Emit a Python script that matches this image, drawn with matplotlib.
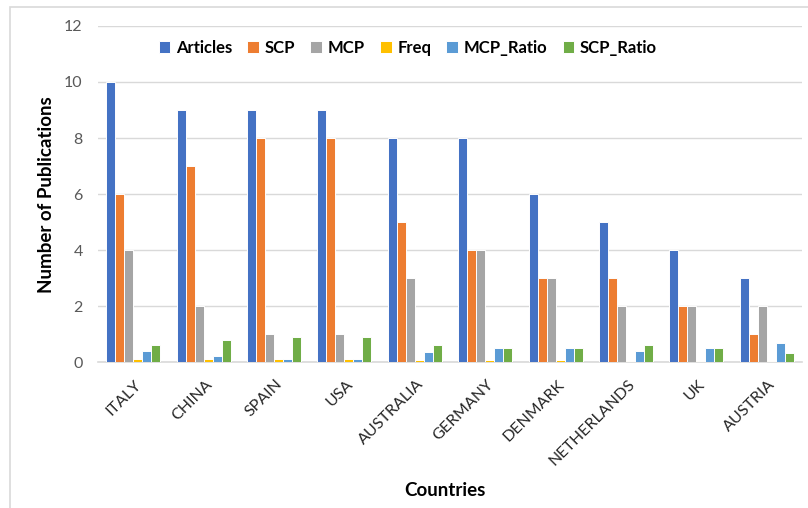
import numpy as np
import matplotlib
matplotlib.use("Agg")
import matplotlib.pyplot as plt
from matplotlib.patches import Rectangle

plt.rcParams['font.family'] = ['Lato', 'DejaVu Sans']

countries = ['ITALY', 'CHINA', 'SPAIN', 'USA', 'AUSTRALIA', 'GERMANY',
             'DENMARK', 'NETHERLANDS', 'UK', 'AUSTRIA']
articles = [10, 9, 9, 9, 8, 8, 6, 5, 4, 3]
scp = [6, 7, 8, 8, 5, 4, 3, 3, 2, 1]
mcp = [4, 2, 1, 1, 3, 4, 3, 2, 2, 2]
freq = [0.1, 0.09, 0.09, 0.09, 0.08, 0.08, 0.06, 0.05, 0.04, 0.03]
mcp_ratio = [0.4, 0.22, 0.11, 0.11, 0.375, 0.5, 0.5, 0.4, 0.5, 0.67]
scp_ratio = [0.6, 0.78, 0.89, 0.89, 0.625, 0.5, 0.5, 0.6, 0.5, 0.33]

series = [('Articles', articles, '#4472C4'),
          ('SCP', scp, '#ED7D31'),
          ('MCP', mcp, '#A5A5A5'),
          ('Freq', freq, '#FFC000'),
          ('MCP_Ratio', mcp_ratio, '#5B9BD5'),
          ('SCP_Ratio', scp_ratio, '#70AD47')]

fig = plt.figure(figsize=(8.08, 5.08), dpi=100)
ax = fig.add_axes([98/808, 146/508, 704/808, 336/508])

# light chart border
fig.patches.append(Rectangle((10/808, -0.1), 1.2, 0.1 + 501/508, transform=fig.transFigure,
                             fill=False, edgecolor='#d9d9d9', linewidth=1.2))

x = np.arange(len(countries))
w = 0.128
for i, (name, vals, col) in enumerate(series):
    ax.bar(x + (i - 2.5) * w, vals, w, color=col, edgecolor='white',
           linewidth=0.7, label=name, zorder=3)

ax.set_xlim(-0.5, len(countries) - 0.5)
ax.set_ylim(0, 12)
ax.set_yticks(range(0, 13, 2))
ax.grid(axis='y', color='#d9d9d9', linewidth=1, zorder=0)
for s in ['top', 'right', 'left']:
    ax.spines[s].set_visible(False)
ax.spines['bottom'].set_color('#d9d9d9')
ax.spines['bottom'].set_linewidth(1.2)
ax.tick_params(axis='y', length=0, pad=11, labelsize=11.5, labelcolor='#595959')
ax.tick_params(axis='x', length=0, pad=11, labelsize=11.5, labelcolor='#262626')
ax.set_xticks(x + 0.02)
ax.set_xticklabels(countries, rotation=45, ha='right', rotation_mode='anchor')

fig.text(47/808, 1 - 195/508, 'Number of Publications', rotation=90, ha='center',
         va='center', fontsize=13.5, fontweight='bold')
fig.text(445/808, 1 - 490/508, 'Countries', ha='center', va='center',
         fontsize=13.5, fontweight='bold')

ax.legend(loc='center', bbox_to_anchor=(0.44, 0.935), ncol=6, frameon=False,
          prop={'weight': 'bold', 'size': 12}, handlelength=0.7, handleheight=0.7,
          handletextpad=0.35, columnspacing=0.9)

fig.savefig('out.png', dpi=100)
